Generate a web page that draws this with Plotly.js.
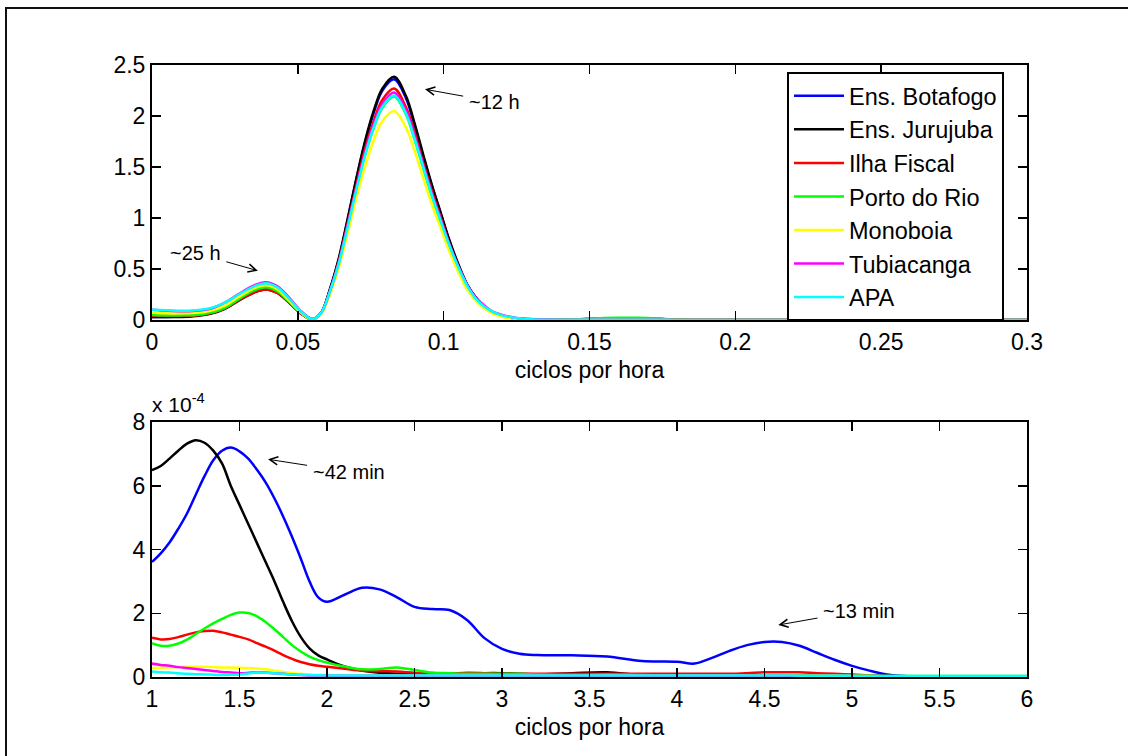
<!DOCTYPE html>
<html>
<head>
<meta charset="utf-8">
<script src="https://cdn.plot.ly/plotly-3.0.1.min.js"></script>
<style>
  html, body { margin: 0; padding: 0; background: #fff; }
  #chart { width: 1128px; height: 756px; }
</style>
</head>
<body>
<div id="chart"></div>
<script>
// ---------------- DATA ----------------
const seriesNames = ["Ens. Botafogo", "Ens. Jurujuba", "Ilha Fiscal", "Porto do Rio", "Monoboia", "Tubiacanga", "APA"];
const seriesColors = ["#0000ff", "#000000", "#ff0000", "#00ff00", "#ffff00", "#ff00ff", "#00ffff"];

// top panel: frequency (ciclos por hora)
const xTop = [0, 0.005, 0.01, 0.015, 0.02, 0.025, 0.03, 0.035, 0.039, 0.043, 0.047, 0.051, 0.055,
  0.058, 0.061, 0.064, 0.067, 0.07, 0.073, 0.076, 0.079, 0.083, 0.087, 0.09, 0.093, 0.096, 0.099, 0.102, 0.105, 0.108, 0.111, 0.114, 0.117, 0.12, 0.125, 0.13,
  0.14, 0.15, 0.155, 0.16, 0.165, 0.17, 0.175, 0.18, 0.2, 0.25, 0.3];

const topBotafogo = [0.03,0.03,0.035,0.045,0.07,0.13,0.22,0.31,0.35,0.31,0.2,0.08,0.01,
  0.07,0.3,0.59,0.97,1.37,1.73,2.03,2.25,2.36,2.18,1.91,1.6,1.31,1.04,0.77,0.54,0.35,0.22,0.13,0.07,0.04,0.015,0.005,
  0.002,0.003,0.003,0.003,0.003,0.003,0.002,0.001,0.001,0.001,0.001];
const topJurujuba = [0.03,0.03,0.03,0.04,0.06,0.11,0.195,0.27,0.30,0.265,0.17,0.065,0.005,
  0.07,0.3,0.6,0.98,1.38,1.75,2.05,2.27,2.385,2.2,1.93,1.62,1.32,1.05,0.78,0.55,0.35,0.22,0.13,0.07,0.04,0.015,0.005,
  0.002,0.01,0.012,0.012,0.012,0.012,0.01,0.003,0.001,0.001,0.001];
const topIlhaFiscal = [0.04,0.04,0.04,0.045,0.065,0.115,0.2,0.27,0.30,0.265,0.17,0.065,0.005,
  0.07,0.28,0.57,0.93,1.31,1.67,1.95,2.16,2.27,2.09,1.84,1.54,1.26,1.0,0.74,0.52,0.33,0.21,0.12,0.07,0.04,0.015,0.005,
  0.002,0.012,0.015,0.015,0.015,0.015,0.01,0.002,0.001,0.001,0.001];
const topPortoRio = [0.05,0.045,0.045,0.05,0.07,0.12,0.21,0.29,0.32,0.28,0.18,0.07,0.005,
  0.07,0.27,0.55,0.9,1.27,1.61,1.88,2.08,2.19,2.02,1.77,1.49,1.21,0.96,0.72,0.5,0.32,0.2,0.12,0.07,0.04,0.015,0.005,
  0.002,0.012,0.02,0.022,0.022,0.02,0.008,0.002,0.001,0.001,0.001];
const topMonoboia = [0.07,0.065,0.065,0.07,0.09,0.14,0.23,0.31,0.34,0.3,0.19,0.075,0.005,
  0.06,0.25,0.51,0.84,1.19,1.5,1.76,1.95,2.05,1.89,1.66,1.39,1.13,0.9,0.67,0.47,0.3,0.19,0.11,0.06,0.03,0.01,0.005,
  0.002,0.003,0.003,0.003,0.003,0.003,0.002,0.001,0.001,0.001,0.001];
const topTubiacanga = [0.10,0.09,0.085,0.09,0.11,0.17,0.26,0.34,0.37,0.33,0.22,0.09,0.01,
  0.07,0.28,0.56,0.92,1.29,1.64,1.92,2.12,2.23,2.06,1.81,1.52,1.24,0.99,0.74,0.53,0.35,0.22,0.14,0.08,0.05,0.02,0.01,
  0.003,0.003,0.003,0.003,0.003,0.003,0.002,0.001,0.001,0.001,0.001];
const topAPA = [0.10,0.095,0.09,0.095,0.115,0.17,0.255,0.33,0.36,0.32,0.21,0.085,0.01,
  0.07,0.28,0.55,0.9,1.27,1.61,1.89,2.09,2.2,2.03,1.78,1.5,1.22,0.97,0.73,0.52,0.34,0.21,0.13,0.08,0.045,0.02,0.008,
  0.003,0.003,0.003,0.003,0.003,0.003,0.002,0.001,0.001,0.001,0.001];

// bottom panel: frequency (ciclos por hora), values in units of 1e-4
const xBot = [1.0,1.05,1.1,1.15,1.2,1.25,1.3,1.35,1.4,1.45,1.5,1.55,1.6,1.65,1.7,1.75,1.8,1.85,1.9,1.95,2.0,
  2.1,2.2,2.3,2.4,2.5,2.6,2.7,2.8,2.9,3.0,3.1,3.2,3.4,3.6,3.8,4.0,4.1,4.2,4.3,4.4,4.5,4.6,4.7,4.8,4.9,5.0,5.1,5.2,5.3,5.5,5.75,6.0];

const botBotafogo = [3.61,3.88,4.22,4.65,5.13,5.72,6.3,6.8,7.1,7.2,7.08,6.85,6.5,6.1,5.6,5.03,4.4,3.72,3.0,2.5,2.36,
  2.58,2.8,2.75,2.5,2.2,2.13,2.1,1.79,1.22,0.88,0.73,0.69,0.68,0.64,0.5,0.48,0.42,0.6,0.82,1.0,1.1,1.1,0.98,0.76,0.54,0.35,0.2,0.08,0.03,0.02,0.02,0.02];
const botJurujuba = [6.49,6.62,6.85,7.1,7.32,7.43,7.35,7.1,6.7,6.0,5.4,4.8,4.2,3.6,3.0,2.35,1.75,1.26,0.9,0.68,0.55,
  0.33,0.2,0.13,0.1,0.1,0.1,0.1,0.1,0.12,0.12,0.1,0.08,0.12,0.15,0.06,0.05,0.05,0.05,0.05,0.05,0.05,0.05,0.05,0.05,0.05,0.04,0.03,0.03,0.02,0.02,0.02,0.02];
const botIlhaFiscal = [1.23,1.18,1.19,1.25,1.33,1.4,1.44,1.45,1.4,1.33,1.26,1.18,1.06,0.95,0.83,0.69,0.57,0.47,0.4,0.35,0.32,
  0.26,0.2,0.18,0.17,0.13,0.1,0.1,0.13,0.12,0.1,0.1,0.1,0.1,0.1,0.1,0.1,0.1,0.1,0.1,0.12,0.15,0.15,0.15,0.12,0.1,0.08,0.05,0.03,0.02,0.02,0.02,0.02];
const botPortoRio = [1.06,0.98,0.98,1.05,1.17,1.35,1.52,1.68,1.82,1.95,2.02,2.01,1.9,1.72,1.5,1.25,1.0,0.8,0.64,0.53,0.45,
  0.33,0.24,0.25,0.3,0.22,0.14,0.12,0.1,0.1,0.1,0.1,0.08,0.06,0.08,0.06,0.05,0.05,0.05,0.05,0.05,0.05,0.05,0.05,0.05,0.05,0.04,0.04,0.03,0.03,0.03,0.03,0.03];
const botMonoboia = [0.28,0.29,0.3,0.31,0.32,0.32,0.32,0.31,0.3,0.3,0.29,0.28,0.27,0.24,0.2,0.16,0.12,0.1,0.08,0.07,0.06,
  0.05,0.05,0.05,0.05,0.05,0.05,0.05,0.05,0.05,0.05,0.05,0.05,0.05,0.05,0.05,0.05,0.05,0.05,0.05,0.05,0.05,0.05,0.04,0.04,0.04,0.03,0.03,0.02,0.02,0.02,0.02,0.02];
const botTubiacanga = [0.42,0.38,0.35,0.31,0.28,0.25,0.22,0.19,0.16,0.14,0.12,0.13,0.15,0.14,0.12,0.1,0.08,0.06,0.05,0.05,0.04,
  0.04,0.04,0.04,0.04,0.04,0.04,0.04,0.04,0.04,0.04,0.04,0.04,0.04,0.04,0.04,0.04,0.04,0.04,0.04,0.04,0.04,0.04,0.03,0.03,0.03,0.03,0.02,0.02,0.02,0.02,0.02,0.02];
const botAPA = [0.17,0.15,0.14,0.12,0.1,0.09,0.08,0.07,0.06,0.07,0.08,0.11,0.14,0.13,0.12,0.1,0.08,0.07,0.06,0.055,0.05,
  0.05,0.05,0.05,0.05,0.05,0.05,0.05,0.05,0.05,0.05,0.05,0.05,0.05,0.05,0.05,0.05,0.05,0.05,0.05,0.05,0.05,0.05,0.04,0.04,0.04,0.04,0.03,0.03,0.03,0.03,0.03,0.03];

// tick labels
const topXTicks = [0, 0.05, 0.1, 0.15, 0.2, 0.25, 0.3];
const topXTickText = ["0", "0.05", "0.1", "0.15", "0.2", "0.25", "0.3"];
const topYTicks = [0, 0.5, 1, 1.5, 2, 2.5];
const topYTickText = ["0", "0.5", "1", "1.5", "2", "2.5"];
const botXTicks = [1, 1.5, 2, 2.5, 3, 3.5, 4, 4.5, 5, 5.5, 6];
const botXTickText = ["1", "1.5", "2", "2.5", "3", "3.5", "4", "4.5", "5", "5.5", "6"];
const botYTicks = [0, 2, 4, 6, 8];
const botYTickText = ["0", "2", "4", "6", "8"];

const xLabel = "ciclos por hora";
const scaleLabel = "x 10<sup>-4</sup>";

// ---------------- CHART ----------------
const topSeries = [topBotafogo, topJurujuba, topIlhaFiscal, topPortoRio, topMonoboia, topTubiacanga, topAPA];
const botSeries = [botBotafogo, botJurujuba, botIlhaFiscal, botPortoRio, botMonoboia, botTubiacanga, botAPA];

const FONT = "Liberation Sans, Arial, sans-serif";
const traces = [];
topSeries.forEach((ys, i) => {
  traces.push({
    x: xTop, y: ys, name: seriesNames[i], type: "scatter", mode: "lines",
    line: { color: seriesColors[i], width: 2.5, shape: "spline", smoothing: 1 },
    xaxis: "x", yaxis: "y", showlegend: true
  });
});
botSeries.forEach((ys, i) => {
  traces.push({
    x: xBot, y: ys, name: seriesNames[i], type: "scatter", mode: "lines",
    line: { color: seriesColors[i], width: 2.5, shape: "spline", smoothing: 1 },
    xaxis: "x2", yaxis: "y2", showlegend: false
  });
});

const axisCommon = {
  showline: true, linecolor: "#000", linewidth: 2, mirror: "ticks",
  ticks: "inside", ticklen: 9, tickwidth: 1.5, tickcolor: "#000",
  showgrid: false, zeroline: false, tickmode: "array",
  tickfont: { family: FONT, size: 23, color: "#000" },
  fixedrange: true
};

// plot-area pixel geometry (margins)
const ML = 152, MR = 101, MT = 65, MB = 79, W = 1128, H = 756;
const PW = W - ML - MR, PH = H - MT - MB;
const px2paperX = p => (p - ML) / PW;
const px2paperY = p => (H - MB - p) / PH;

const arrowStyle = { showarrow: true, arrowhead: 5, arrowsize: 1.6, arrowwidth: 1, arrowcolor: "#000",
  xanchor: "center", yanchor: "middle", startstandoff: 4, font: { family: FONT, size: 20, color: "#000" } };

const layout = {
  width: W, height: H,
  margin: { l: ML, r: MR, t: MT, b: MB, pad: 0 },
  paper_bgcolor: "#fff", plot_bgcolor: "#fff",
  font: { family: FONT, size: 23, color: "#000" },
  showlegend: true,
  legend: {
    x: px2paperX(787), y: px2paperY(72), xanchor: "left", yanchor: "top",
    bgcolor: "#fff", bordercolor: "#000", borderwidth: 2,
    font: { family: FONT, size: 23.5, color: "#000" },
    itemwidth: 50, tracegroupgap: 0
  },
  xaxis: Object.assign({}, axisCommon, {
    domain: [0, 1], anchor: "y", range: [0, 0.3],
    tickvals: topXTicks, ticktext: topXTickText,
    title: { text: xLabel, font: { family: FONT, size: 23 }, standoff: 8 }
  }),
  yaxis: Object.assign({}, axisCommon, {
    domain: [px2paperY(320), 1], anchor: "x", range: [0, 2.5],
    tickvals: topYTicks, ticktext: topYTickText
  }),
  xaxis2: Object.assign({}, axisCommon, {
    domain: [0, 1], anchor: "y2", range: [1, 6],
    tickvals: botXTicks, ticktext: botXTickText,
    title: { text: xLabel, font: { family: FONT, size: 23 }, standoff: 8 }
  }),
  yaxis2: Object.assign({}, axisCommon, {
    domain: [0, px2paperY(422)], anchor: "x2", range: [0, 8],
    tickvals: botYTicks, ticktext: botYTickText
  }),
  annotations: [
    Object.assign({}, arrowStyle, { xref: "x", yref: "y", axref: "x", ayref: "y",
      x: 0.0936, y: 2.262, ax: 0.1173, ay: 2.14, text: "~12 h" }),
    Object.assign({}, arrowStyle, { xref: "x", yref: "y", axref: "x", ayref: "y",
      x: 0.0363, y: 0.483, ax: 0.0149, ay: 0.657, text: "~25 h" }),
    Object.assign({}, arrowStyle, { xref: "x2", yref: "y2", axref: "x2", ayref: "y2",
      x: 1.663, y: 6.83, ax: 2.123, ay: 6.44, text: "~42 min" }),
    Object.assign({}, arrowStyle, { xref: "x2", yref: "y2", axref: "x2", ayref: "y2",
      x: 4.579, y: 1.631, ax: 5.04, ay: 2.08, text: "~13 min" }),
    // scale factor label
    { xref: "paper", yref: "paper", x: px2paperX(150), y: px2paperY(418), xanchor: "left", yanchor: "bottom",
      text: scaleLabel, showarrow: false, font: { family: FONT, size: 21, color: "#000" } }
  ],
  shapes: [
    // figure border (left and top edges visible)
    { type: "path", xref: "paper", yref: "paper",
      path: `M ${px2paperX(6)} ${px2paperY(800)} L ${px2paperX(6)} ${px2paperY(8)} L ${px2paperX(1200)} ${px2paperY(8)}`,
      line: { color: "#111", width: 2 } }
  ]
};

Plotly.newPlot("chart", traces, layout, { displayModeBar: false, staticPlot: true });
</script>
</body>
</html>
